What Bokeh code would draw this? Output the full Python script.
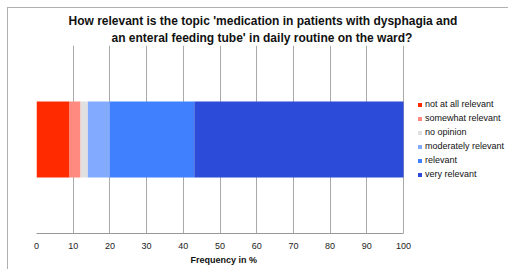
from bokeh.plotting import figure
from bokeh.models import Range1d, Legend, LegendItem, FixedTicker, Title
from bokeh.embed import file_html
from bokeh.resources import INLINE

categories = ["not at all relevant", "somewhat relevant", "no opinion",
              "moderately relevant", "relevant", "very relevant"]
values = [9, 3, 2, 6, 23, 57]
colors = ["#FF2A00", "#FF8A80", "#E0E0E0", "#82AAFF", "#4080FF", "#2B4BD8"]
ticks = list(range(0, 101, 10))
title_lines = ["How relevant is the topic 'medication in patients with dysphagia and",
               "an enteral feeding tube' in daily routine on the ward?"]
x_title = "Frequency in %"

p = figure(width=508, height=269, output_backend="svg", toolbar_location=None,
           x_range=Range1d(0, 128.6), y_range=Range1d(-1.24, 1.24),
           min_border_left=36, min_border_right=0, min_border_top=45,
           min_border_bottom=36, border_fill_color=None)
p.title = None
p.styles = {"background": "linear-gradient(#b0b0b0,#b0b0b0) 7px 7px / 1px 100% no-repeat, "
                          "linear-gradient(#b0b0b0,#b0b0b0) 7px 7px / 100% 1px no-repeat, white"}

data = {"y": [0]}
for c, v in zip(categories, values):
    data[c] = [v]
rs = p.hbar_stack(categories, y="y", height=1.0, color=colors, source=data,
                  line_color=None)

p.yaxis.visible = False
p.ygrid.visible = False
p.xgrid.ticker = FixedTicker(ticks=ticks)
p.xgrid.grid_line_color = "#aaaaaa"
p.xgrid.grid_line_width = 1
p.outline_line_color = None
p.xaxis.ticker = FixedTicker(ticks=ticks)
p.xaxis.bounds = (ticks[0], ticks[-1])
p.xaxis.axis_line_color = "#999999"
p.xaxis.major_tick_in = 0
p.xaxis.major_tick_out = 0
p.xaxis.minor_tick_line_color = None
p.xaxis.major_label_text_font = "Liberation Sans"
p.xaxis.major_label_text_font_size = "9px"
p.xaxis.major_label_text_color = "#222222"
p.xaxis.major_label_standoff = 9

legend = Legend(items=[LegendItem(label=c, renderers=[r]) for c, r in zip(categories, rs)],
                location=(381, 52), margin=0, padding=0, spacing=0,
                glyph_width=5, glyph_height=5, label_standoff=3,
                label_height=14, label_text_font="Liberation Sans",
                label_text_font_size="9px", label_text_color="#111111",
                border_line_color=None, background_fill_alpha=0)
p.add_layout(legend, "center")

for line, off, so in zip(reversed(title_lines), [75, 32], [2, 0]):
    t = Title(text=line, align="left", offset=off, text_font="Liberation Sans",
              text_font_size="12px", text_font_style="bold", text_color="#111111",
              standoff=so, text_line_height=1.0)
    p.add_layout(t, "above")

xt = Title(text=x_title, align="left", offset=154, text_font="Liberation Sans",
           text_font_size="9px", text_font_style="bold", text_color="#111111",
           standoff=2)
p.add_layout(xt, "below")

open("out.html", "w").write(file_html(p, INLINE))
